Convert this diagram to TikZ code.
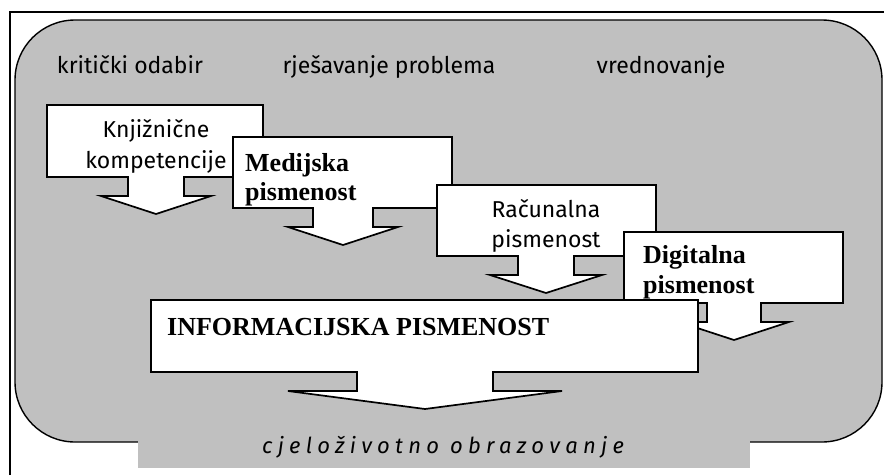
\documentclass[tikz,border=0pt]{standalone}
\usepackage{fontspec}
\setmainfont{Liberation Serif}
\newfontfamily\labelfont{Fira Sans}
\newfontfamily\bandfont[LetterSpace=24]{Fira Sans}
\definecolor{panelgray}{RGB}{192,192,192}

\begin{document}
\begin{tikzpicture}[x=1pt,y=-1pt,
  boxline/.style={draw=black,line width=1.7pt,fill=white,line join=miter},
  sanslabel/.style={font=\labelfont\fontsize{23}{27}\selectfont,inner sep=0pt,anchor=base},
  boldlabel/.style={font=\fontsize{26}{30}\selectfont\bfseries,inner sep=0pt,anchor=base west}]
\useasboundingbox (0,0) rectangle (884,475);
\newcommand{\arrowbox}[7]{
  \draw[boxline] (#1,#2) -- (#3,#2) -- (#3,#4) -- (#5+#6,#4) -- (#5+#6,#4+19)
    -- (#5+#7,#4+19) -- (#5,#4+37) -- (#5-#7,#4+19) -- (#5-#6,#4+19)
    -- (#5-#6,#4) -- (#1,#4) -- cycle;
}

\draw[line width=1.6pt] (10,475) -- (10,12) -- (884,12);
\draw[line width=1.4pt,fill=panelgray,rounded corners=60pt] (15,20) rectangle (882,442);
\fill[panelgray] (138,436) rectangle (750,468);

\node[sanslabel] (odabir) at (130,73) {kritički odabir};
\node[sanslabel] (problem) at (389,73) {rješavanje problema};
\node[sanslabel] (vredn) at (661,73) {vrednovanje};

\arrowbox{47}{105}{263}{177}{156}{28}{55}
\node[sanslabel] (knjiz1) at (156,137) {Knjižnične};
\node[sanslabel] (knjiz2) at (156,168) {kompetencije};

\arrowbox{233}{137}{452}{208}{343}{30}{55}
\node[boldlabel] (medij1) at (245,171) {Medijska};
\node[boldlabel] (medij2) at (245,200) {pismenost};

\arrowbox{437}{185}{656}{256}{546}{28}{56}
\node[sanslabel] (racun1) at (546,217) {Računalna};
\node[sanslabel] (racun2) at (546,247) {pismenost};

\arrowbox{624}{232}{843}{303}{734}{27}{55}
\node[boldlabel] (digit1) at (643,263) {Digitalna};
\node[boldlabel] (digit2) at (643,293) {pismenost};

\arrowbox{151}{300}{698}{372}{425}{68}{137}
\node[boldlabel] (info) at (167,335) {INFORMACIJSKA PISMENOST};

\node[font=\bandfont\itshape\fontsize{22}{26}\selectfont,inner sep=0pt,anchor=base] (cjelo) at (443,453) {cjeloživotno obrazovanje};

\end{tikzpicture}
\end{document}
